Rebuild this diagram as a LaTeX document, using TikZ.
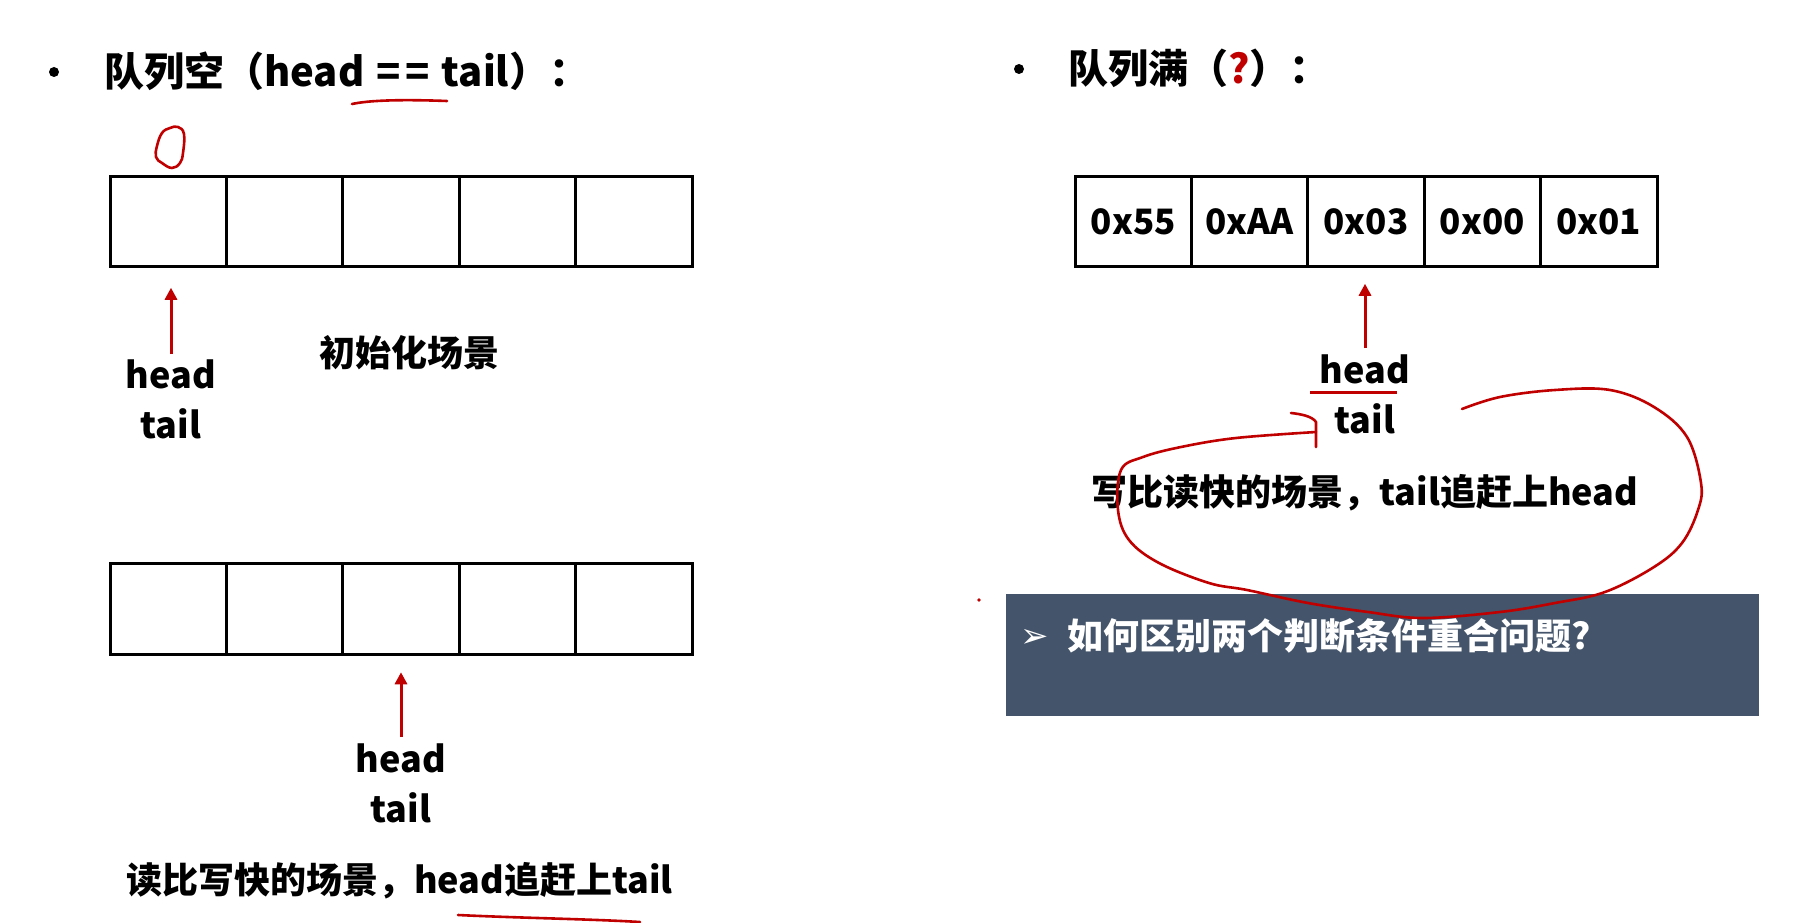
\documentclass[tikz,border=0pt]{standalone}
\usepackage{fontspec}
\setmainfont{Noto Sans CJK SC}
\newfontfamily\dejavu{DejaVu Sans}
\usetikzlibrary{arrows.meta}
\definecolor{inkred}{HTML}{C00000}
\definecolor{slate}{HTML}{44546A}
\tikzset{
  cell/.style={draw, line width=3pt, minimum width=116.4pt, minimum height=90.5pt,
    inner sep=0pt, outer sep=0pt, font=\fontsize{35}{40}\selectfont\bfseries},
  lbl/.style={anchor=base, inner sep=0pt, font=\fontsize{36}{42}\selectfont\bfseries},
  ttl/.style={anchor=base west, inner sep=0pt, font=\fontsize{40}{46}\selectfont\bfseries},
  ptr/.style={draw=inkred, line width=3pt, -{Triangle[width=12pt,length=12pt]}},
  ink/.style={draw=inkred, line width=2.6pt, line cap=round, line join=round},
  bulletdot/.style={circle, fill=black, minimum size=10pt, inner sep=0pt},
}
\begin{document}
\begin{tikzpicture}[x=1pt,y=-1pt]
\useasboundingbox (0,0) rectangle (1804,923);
\fill[white] (0,0) rectangle (1804,923);

% ---------- left titles ----------
\node[bulletdot] (b1) at (54,72) {};
\node[ttl] (t1) at (104,87) {队列空（head\hspace{0.3em}=\hspace{0.12em}=\hspace{0.3em}tail）：};
\draw[ink] (352,104) .. controls (375,99) and (420,100) .. (447,101);

% ---------- top-left array ----------
\foreach \i/\x in {1/168.2,2/284.6,3/401,4/517.4,5/633.8}
  \node[cell] (A\i) at (\x,221.5) {};
\draw[ink] plot[smooth cycle, tension=0.7] coordinates {
  (178,127) (184,134) (183,153) (180,163) (172,168) (162,163) (156,157) (157,146) (162,133) (170,128)};

\node[lbl] (ah) at (171,388) {head};
\node[lbl] (at) at (171,438) {tail};
\coordinate (pa) at (171,354);
\draw[ptr] (pa) -- ([yshift=-21pt]pa |- A1.south);
\node[lbl, anchor=center] (c1) at (409,353) {初始化场景};

% ---------- bottom-left array ----------
\foreach \i/\x in {1/168.2,2/284.6,3/401,4/517.4,5/633.8}
  \node[cell] (B\i) at (\x,609) {};
\node[lbl] (bh) at (401,772) {head};
\node[lbl] (bt) at (401,822) {tail};
\coordinate (pb) at (401,737);
\draw[ptr] (pb) -- ([yshift=-18pt]pb |- B3.south);
\node[lbl] (c2) at (399.5,893) {读比写快的场景，head追赶上tail};
\draw[ink] (458,915) .. controls (520,918) and (590,919) .. (640,922);

% ---------- right title ----------
\node[bulletdot] (b2) at (1019,69) {};
\node[ttl] (t2) at (1068,84) {队列满（{\color{inkred}?}）：};

% ---------- right array ----------
\foreach \i/\x/\v in {1/1133.2/0x55,2/1249.6/0xAA,3/1366/0x03,4/1482.4/0x00,5/1598.8/0x01}
  \node[cell] (C\i) at (\x,221.5) {\v};
\node[lbl] (ch) at (1365,383) {head};
\node[lbl] (ct) at (1365,433) {tail};
\coordinate (pc) at (1365,348);
\draw[ptr] (pc) -- ([yshift=-17pt]pc |- C3.south);
\draw[inkred, line width=3pt] (1310,392) -- (1397,392);
\node[lbl] (c3) at (1365,505) {写比读快的场景，tail追赶上head};

% ---------- question box ----------
\node[fill=slate, minimum width=753pt, minimum height=122pt, inner sep=0pt, anchor=north west] (qbox) at (1006,594) {};
\node[text=white, inner sep=0pt, font=\dejavu\fontsize{34}{38}\selectfont] (qarrow) at (1035,638) {➢};
\node[lbl, anchor=base west, text=white] (qtext) at (1067,649) {如何区别两个判断条件重合问题?};

% freehand loop (drawn over the box)
\draw[ink] plot[smooth, tension=0.6] coordinates {
  (1462,409) (1500,397) (1555,390) (1610,390) (1654,407) (1687,437) (1701,483)
  (1698,510) (1682,543) (1654,567) (1605,592) (1555,603) (1500,612) (1423,618)
  (1368,612) (1308,603) (1247,590) (1209,583) (1159,563) (1129,540) (1118,510)
  (1121,470) (1143,457) (1181,447) (1236,438) (1316,432)};
\draw[ink] (1316,447) -- (1316,422) .. controls (1312,416) and (1300,414) .. (1291,413);
\fill[inkred] (979,600) circle (1.8);
\end{tikzpicture}
\end{document}
